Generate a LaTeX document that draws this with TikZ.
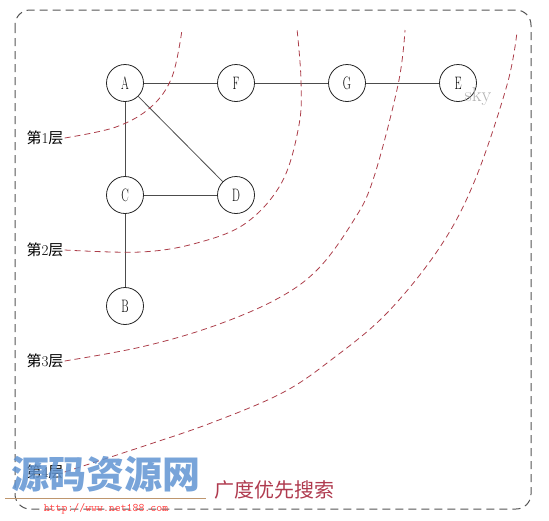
\documentclass[tikz,border=0pt]{standalone}
\usepackage{fontspec}
\newfontfamily\cjk{Noto Sans CJK SC}
\definecolor{layerred}{RGB}{172,62,74}
\definecolor{framegray}{RGB}{85,85,85}
\definecolor{wmblue}{RGB}{96,148,210}
\definecolor{captred}{RGB}{175,58,78}
\newcommand{\vl}[1]{\scalebox{0.62}[1]{#1}}
\begin{document}
\begin{tikzpicture}[x=1pt,y=-1pt,
  vtx/.style={draw=black!85,circle,minimum size=37pt,inner sep=0pt,font=\fontsize{18}{18}\selectfont,line width=0.8pt},
  edge/.style={draw=black!70,line width=0.8pt},
  layer/.style={draw=layerred,dash pattern=on 6pt off 4pt,line width=0.8pt},
  lbl/.style={font=\fontsize{15}{15}\selectfont,inner sep=1pt}]
\useasboundingbox (0,0) rectangle (549,520);
\draw[framegray,line width=1pt,dash pattern=on 8pt off 5pt,rounded corners=15pt] (15,10) rectangle (531,509);
% nodes
\node[vtx] (A) at (125,83) {\vl{A}};
\node[vtx] (F) at (236,83) {\vl{F}};
\node[vtx] (G) at (347,83) {\vl{G}};
\node[vtx] (E) at (458,83) {\vl{E}};
\node[vtx] (C) at (125,195) {\vl{C}};
\node[vtx] (D) at (236,195) {\vl{D}};
\node[vtx] (B) at (125,306) {\vl{B}};
\draw[edge] (A) -- (F);
\draw[edge] (F) -- (G);
\draw[edge] (G) -- (E);
\draw[edge] (A) -- (C);
\draw[edge] (A) -- (D);
\draw[edge] (C) -- (D);
\draw[edge] (C) -- (B);
% labels
\node[lbl] (l1) at (45,138) {{\cjk 第}1{\cjk 层}};
\node[lbl] (l2) at (45,250) {{\cjk 第}2{\cjk 层}};
\node[lbl] (l3) at (45,361) {{\cjk 第}3{\cjk 层}};
\node[lbl] (l4) at (45,472) {{\cjk 第}4{\cjk 层}};
% layer curves
\draw[layer] plot[smooth,tension=0.6] coordinates {(l1.east) (116,127) (151,107) (172,77) (182,30)};
\draw[layer] plot[smooth,tension=0.6] coordinates {(l2.east) (141,252) (197,243) (246,223) (282,182) (299,125) (301,80) (297,29)};
\draw[layer] plot[smooth,tension=0.6] coordinates {(l3.east) (141,347) (211,327) (275,300) (317,270) (352,223) (373,180) (398,85) (405,30)};
\draw[layer] plot[smooth,tension=0.6] coordinates {(l4.east) (141,447) (211,423) (282,393) (331,360) (387,313) (440,247) (475,180) (507,85) (517,32)};
% caption and watermarks
\node[text=black!30,font=\fontsize{20}{20}\selectfont] (sky) at (478,97) {sky};
\node[text=captred,font=\cjk\fontsize{20}{20}\selectfont] (cap) at (274,490) {广度优先搜索};
\node[text=wmblue,text opacity=0.85,font=\cjk\bfseries\fontsize{38}{38}\selectfont,inner sep=0pt] (wm) at (106,474) {源码资源网};
\draw[draw={rgb,255:red,190;green,150;blue,110},line width=0.8pt] (5,498) -- (206,498);
\node[text=red!75,font=\ttfamily\fontsize{11.5}{11.5}\selectfont,inner sep=0pt] (url) at (106,509) {http://www.net188.com};
\end{tikzpicture}
\end{document}
